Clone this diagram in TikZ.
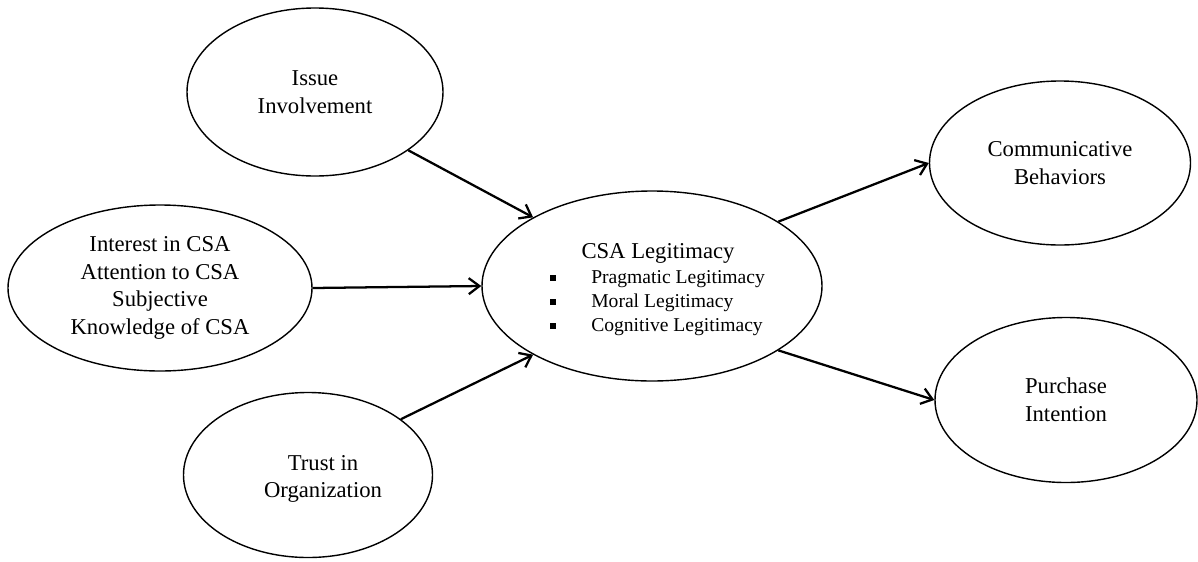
\documentclass[tikz,border=0pt]{standalone}
\usepackage{fontspec}
\setmainfont{Liberation Serif}
\usetikzlibrary{shapes.geometric,arrows.meta}
\begin{document}
\begin{tikzpicture}[x=0.75pt,y=-0.75pt,
  ell/.style={draw, line width=1.05pt, ellipse, inner sep=0pt, align=center, font=\fontsize{17}{20.7}\selectfont},
  txt/.style={inner sep=0pt, align=center, font=\fontsize{17}{20.7}\selectfont},
  ttl/.style={inner sep=0pt, anchor=base, font=\fontsize{17}{20.7}\selectfont},
  btxt/.style={inner sep=0pt, anchor=base west, font=\fontsize{14.7}{17}\selectfont},
  sq/.style={fill=black, inner sep=0pt, minimum size=4.8pt},
  arr/.style={line width=1.7pt, -{Straight Barb[length=8pt,width=12pt]}}
]
\useasboundingbox (0,0) rectangle (1198,561);
\node[ell, minimum width=192pt, minimum height=126pt] (issue) at (315,92) {Issue\\Involvement};
\node[ell, minimum width=228pt, minimum height=124.5pt] (interest) at (160,288) {Interest in CSA\\Attention to CSA\\Subjective\\Knowledge of CSA};
\node[ell, minimum width=186.75pt, minimum height=123.75pt] (trust) at (308,475) {};
\node[txt] (trusttxt) at (323,479) {Trust in\\Organization};
\node[ell, minimum width=255pt, minimum height=142.5pt] (csa) at (652,286) {};
\node[ttl] (csatitle) at (658,258) {CSA Legitimacy};
\node[btxt] (b1) at (591,283) {Pragmatic Legitimacy};
\node[btxt] (b2) at (591,307) {Moral Legitimacy};
\node[btxt] (b3) at (591,331) {Cognitive Legitimacy};
\node[sq] (s1) at (553,278) {};
\node[sq] (s2) at (553,302) {};
\node[sq] (s3) at (553,326) {};
\node[ell, minimum width=195.75pt, minimum height=123pt] (comm) at (1060,163) {Communicative\\Behaviors};
\node[ell, minimum width=196.5pt, minimum height=123.75pt] (purch) at (1066,400) {Purchase\\Intention};
\draw[arr] (issue.-32) -- (csa.150);
\draw[arr] (interest.east) -- (csa.west);
\draw[arr] (trust.31) -- (csa.210);
\draw[arr] (csa.27) -- (comm.west);
\draw[arr] (csa.-27) -- (purch.west);
\end{tikzpicture}
\end{document}
